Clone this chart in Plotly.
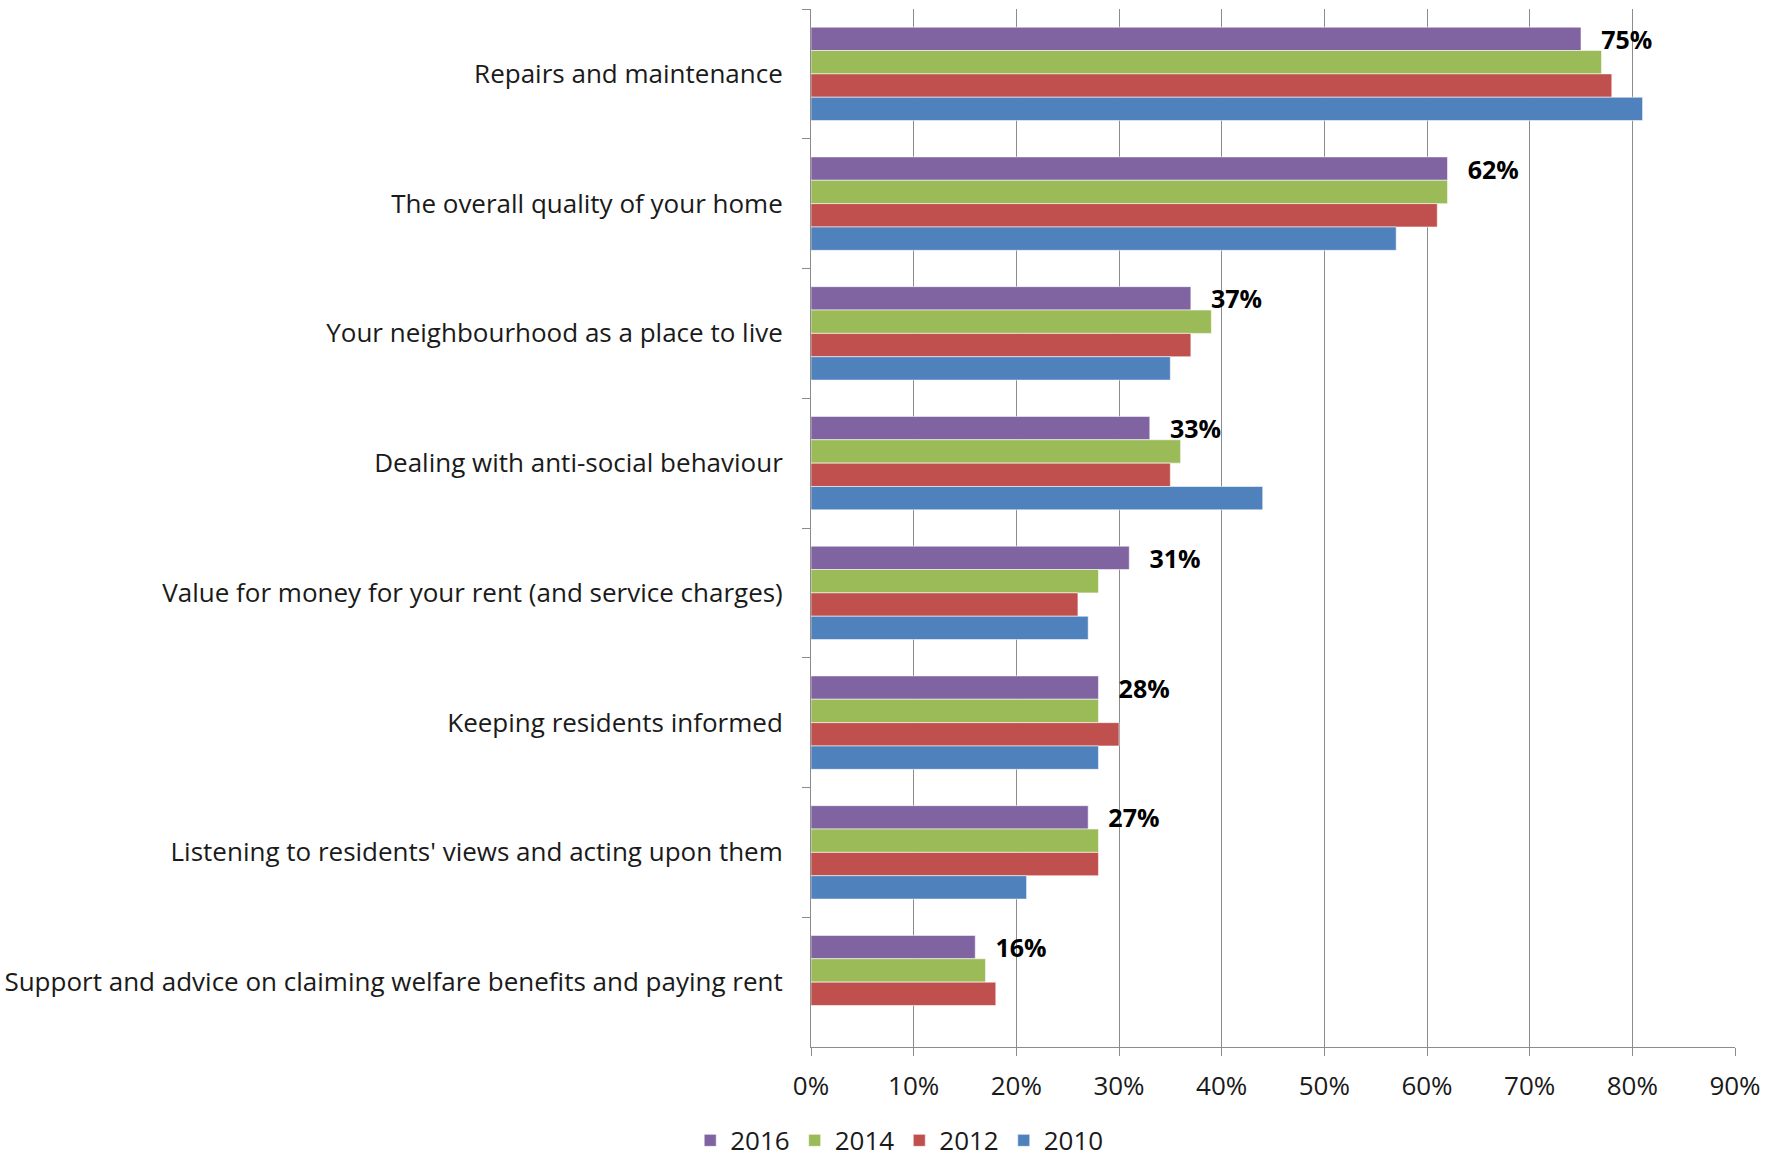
import plotly.graph_objects as go

categories = [
    "Repairs and maintenance",
    "The overall quality of your home",
    "Your neighbourhood as a place to live",
    "Dealing with anti-social behaviour",
    "Value for money for your rent (and service charges)",
    "Keeping residents informed",
    "Listening to residents' views and acting upon them",
    "Support and advice on claiming welfare benefits and paying rent",
]
years = ["2016", "2014", "2012", "2010"]
values_2016 = [75, 62, 37, 33, 31, 28, 27, 16]
values_2014 = [77, 62, 39, 36, 28, 28, 28, 17]
values_2012 = [78, 61, 37, 35, 26, 30, 28, 18]
values_2010 = [81, 57, 35, 44, 27, 28, 21, None]
colors = ["#8064A2", "#9BBB59", "#C0504D", "#4F81BD"]
x_ticks = list(range(0, 91, 10))

FONT = "Open Sans"
TXT = "#1a1a1a"
series = [values_2016, values_2014, values_2012, values_2010]

fig = go.Figure()
for i, (yr, vals, col) in enumerate(zip(years, series, colors)):
    kw = {}
    if i == 0:
        kw = dict(
            text=["\u00a0\u00a0\u2009<b>%d%%</b>" % v for v in vals],
            textposition="outside",
            constraintext="none",
            textfont=dict(family=FONT, size=25, color="#000000"),
            cliponaxis=False,
        )
    fig.add_trace(go.Bar(
        y=categories, x=vals, name=yr, orientation="h",
        marker=dict(color=col, line=dict(color="rgba(255,255,255,0.55)", width=1)),
        **kw,
    ))

fig.update_layout(
    width=1775, height=1159,
    paper_bgcolor="white", plot_bgcolor="white",
    margin=dict(l=811, r=40, t=9, b=112, autoexpand=False),
    barmode="group", bargap=0.28, bargroupgap=0,
    font=dict(family=FONT, size=26, color=TXT),
    showlegend=True,
    legend=dict(orientation="h", x=0.096, xanchor="center",
                yref="container", y=0.016, yanchor="middle",
                font=dict(family=FONT, size=26, color=TXT),
                traceorder="normal", itemwidth=30),
)
fig.update_xaxes(
    range=[0, 90], tickvals=x_ticks, ticktext=["%d%%" % t for t in x_ticks],
    showgrid=True, gridcolor="#8c8c8c", gridwidth=1,
    showline=True, linecolor="#8c8c8c", linewidth=1,
    ticks="outside", ticklen=8, tickcolor="#8c8c8c",
    ticklabelstandoff=8, zeroline=False,
    tickfont=dict(family=FONT, size=26, color=TXT),
)
fig.update_yaxes(
    autorange="reversed", type="category",
    showline=True, linecolor="#8c8c8c", linewidth=1,
    ticks="outside", ticklen=8, tickcolor="#8c8c8c", tickson="boundaries",
    ticklabelstandoff=22, showgrid=False,
    tickfont=dict(family=FONT, size=26, color=TXT),
)

fig.write_html(
    "out.html",
    config={"displayModeBar": False},
    post_script="document.body.style.margin='0';document.body.style.overflow='hidden';",
)
